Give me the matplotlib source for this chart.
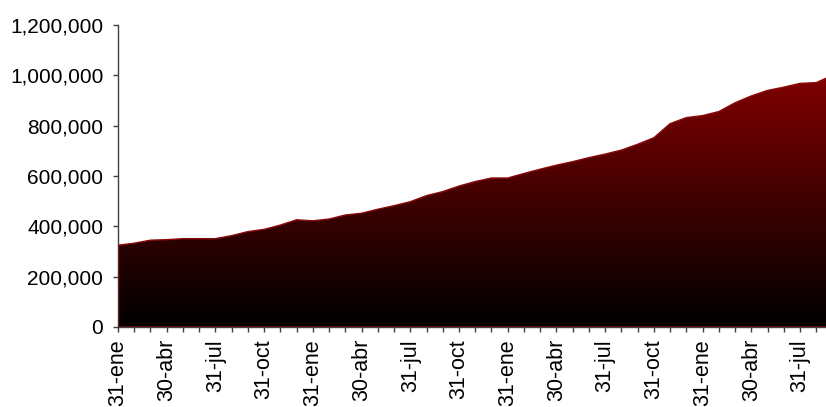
import matplotlib
matplotlib.use("Agg")
import matplotlib.pyplot as plt
import numpy as np
from matplotlib.colors import LinearSegmentedColormap
from matplotlib.ticker import FuncFormatter, MultipleLocator

# monthly totals, end of month, starting in January
values = [325, 333, 345, 347, 351, 351, 351, 363, 379, 388,
          405, 426, 422, 429, 445, 452, 468, 482, 498, 522,
          538, 560, 578, 592, 592, 610, 627, 643, 657, 673,
          687, 703, 726, 752, 808, 832, 840, 856, 891, 918,
          940, 953, 968, 971, 1000]
values = [v * 1000 for v in values]

tick_labels = ["31-ene", "30-abr", "31-jul", "31-oct"] * 3 + ["31-ene", "30-abr", "31-jul"]

plt.rcParams["font.family"] = ["Liberation Sans", "DejaVu Sans"]

fig = plt.figure(figsize=(8.26, 4.07), dpi=100)
ax = fig.add_axes([118 / 826, 80 / 407, 708 / 826, 302 / 407])

x = np.arange(len(values))
y = np.array(values, dtype=float)

# area with a vertical dark-red to black gradient
poly = ax.fill_between(x, 0, y, facecolor="none", edgecolor="#8a0a0a", linewidth=1.0, zorder=3)
cmap = LinearSegmentedColormap.from_list("redblack", ["#000000", "#800000"])
grad = np.linspace(0, 1, 256).reshape(-1, 1)
img = ax.imshow(grad, cmap=cmap, aspect="auto", origin="lower",
                extent=[x[0], x[-1], 0, y.max()], zorder=2)
img.set_clip_path(poly.get_paths()[0], transform=ax.transData)

ax.set_xlim(0, 43.6)
ax.set_ylim(0, 1200000)

ax.yaxis.set_major_locator(MultipleLocator(200000))
ax.yaxis.set_major_formatter(FuncFormatter(lambda v, _: f"{v:,.0f}"))

ax.set_xticks(np.arange(0, 43, 3))
ax.set_xticklabels(tick_labels, rotation=90, va="top", ha="center")
ax.xaxis.set_minor_locator(MultipleLocator(1))

for side in ["top", "right"]:
    ax.spines[side].set_visible(False)
for side in ["left", "bottom"]:
    ax.spines[side].set_color("#404040")
    ax.spines[side].set_linewidth(1.0)

ax.tick_params(axis="both", which="both", direction="out", color="#404040",
               length=3.6, width=1.0, labelsize=15, labelcolor="black")
ax.tick_params(axis="y", pad=7)
ax.tick_params(axis="x", pad=5, labelsize=15.5)

fig.savefig("out.png", dpi=100)
